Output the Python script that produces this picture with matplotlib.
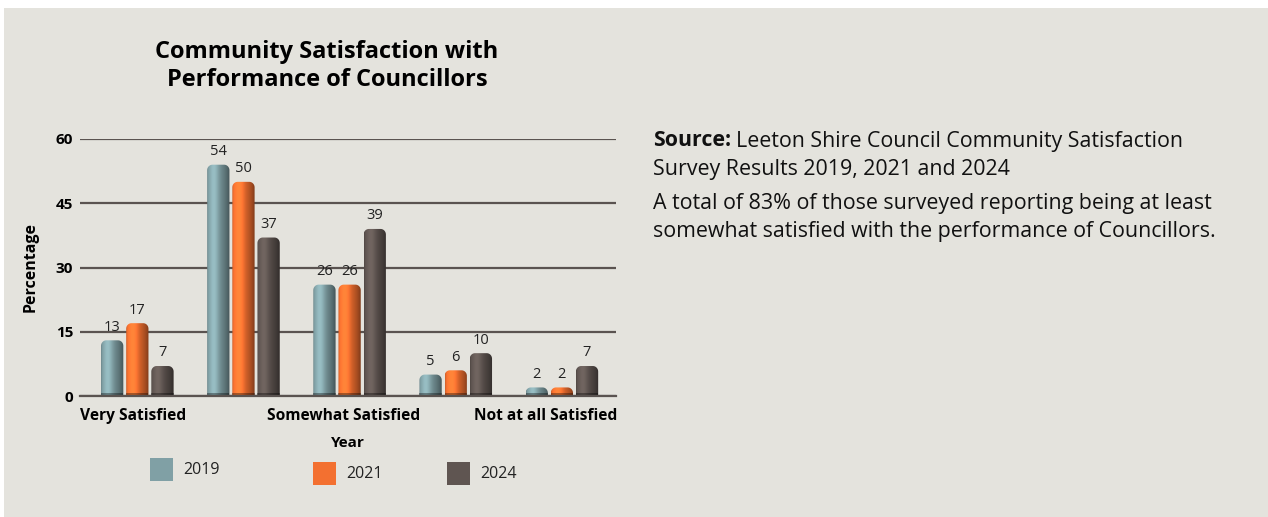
import matplotlib.pyplot as plt
import numpy as np
from matplotlib.patches import Polygon, Rectangle
from matplotlib.colors import to_rgb
from matplotlib.transforms import ScaledTranslation

plt.rcParams['font.family'] = ['Open Sans', 'DejaVu Sans']

categories = ['Very Satisfied', 'Satisfied', 'Somewhat Satisfied',
              'Not very Satisfied', 'Not at all Satisfied']
shown_labels = ['Very Satisfied', '', 'Somewhat Satisfied', '', 'Not at all Satisfied']
years = ['2019', '2021', '2024']
values_2019 = [13, 54, 26, 5, 2]
values_2021 = [17, 50, 26, 6, 2]
values_2024 = [7, 37, 39, 10, 7]
colors = ['#80A0A5', '#F37030', '#5F5551']
y_ticks = [0, 15, 30, 45, 60]

W, H = 1268, 517
bg = '#E4E3DD'
fig = plt.figure(figsize=(W / 100, H / 100), dpi=100, facecolor='white')
fig.patches.append(Rectangle((4 / W, 0), 1, 1 - 8 / H, transform=fig.transFigure,
                             facecolor=bg, edgecolor='none', zorder=-10))

ax = fig.add_axes([80 / W, 1 - 396 / H, 536 / W, 257 / H])
ax.set_facecolor('none')

x = np.arange(len(categories))
width = 0.21
offset = 0.237
series = [values_2019, values_2021, values_2024]


def shade(color):
    # horizontal cylinder-like gradient
    c = np.array(to_rgb(color))
    t = np.linspace(0, 1, 64)
    light = 0.92 + 0.28 * np.exp(-((t - 0.3) / 0.22) ** 2) - 0.4 * t ** 3
    light[:3] *= 0.9
    img = np.clip(c[None, None, :] * light[None, :, None], 0, 1)
    return np.repeat(img, 2, axis=0)


def rounded_bar(x0, w, h, rx, ry):
    # outline of a bar with rounded top corners (data coords)
    ry = min(ry, h)
    a = np.linspace(0, np.pi / 2, 12)
    left = np.column_stack([x0 + rx - rx * np.cos(a), h - ry + ry * np.sin(a)])
    right = np.column_stack([x0 + w - rx + rx * np.sin(a), h - ry + ry * np.cos(a)])
    return np.vstack([[[x0, -1]], left, right, [[x0 + w, -1]]])


for i, vals in enumerate(series):
    bars = ax.bar(x + (i - 1) * offset, vals, width, color='none', edgecolor='none')
    for rect, v in zip(bars, vals):
        x0 = rect.get_x()
        w = rect.get_width()
        poly = Polygon(rounded_bar(x0, w, v, 0.05, 1.3), closed=True,
                       facecolor='none', edgecolor='none', zorder=3)
        ax.add_patch(poly)
        im = ax.imshow(shade(colors[i]), extent=(x0, x0 + w, 0, v), origin='lower',
                       aspect='auto', zorder=3, interpolation='bilinear')
        im.set_clip_path(poly)
        # dark foot of the bar
        ax.add_patch(Rectangle((x0, 0), w, 0.8, facecolor='black', alpha=0.35,
                               edgecolor='none', zorder=3.5))
        ax.text(x0 + w / 2, v + 1.3, str(v), ha='center', va='bottom', fontsize=10.5, color='#222222')

ax.set_xlim(-0.54, 4.51)
ax.set_ylim(0, 60)
ax.set_yticks(y_ticks)
ax.set_yticklabels([str(t) for t in y_ticks], fontweight='bold', fontsize=11)
ax.set_xticks(x)
ax.set_xticklabels(shown_labels, fontweight='bold', fontsize=11.2)
ax.tick_params(axis='y', length=0, pad=5)
ax.tick_params(axis='x', length=0, pad=9)
# the original pulls the category labels a little to the left
shifts = [-4, 0, -6, 0, -16]
for lab, dx in zip(ax.get_xticklabels(), shifts):
    lab.set_transform(lab.get_transform() + ScaledTranslation(dx / 100, 0, fig.dpi_scale_trans))
ax.yaxis.grid(True, color='#5A5350', linewidth=1.6, zorder=1)
ax.set_axisbelow(True)
for s in ax.spines.values():
    s.set_visible(False)
ax.axhline(0, color='#5A5350', linewidth=1.6, zorder=4, clip_on=False)
ax.set_xlabel('Year', fontweight='bold', fontsize=11, labelpad=8)
ax.set_ylabel('Percentage', fontweight='bold', fontsize=11.5, labelpad=12)

fig.text(327 / W, 1 - 66 / H, 'Community Satisfaction with\nPerformance of Councillors',
         ha='center', va='center', fontsize=17, fontweight='bold', linespacing=1.2)

# legend drawn as in the original: three loose entries
leg_boxes = [(150, 458), (313, 462), (447, 462)]
for year, col, (lx, ly) in zip(years, colors, leg_boxes):
    fig.patches.append(Rectangle((lx / W, 1 - (ly + 23) / H), 23 / W, 23 / H,
                                 transform=fig.transFigure, facecolor=col, edgecolor='none'))
    fig.text((lx + 33) / W, 1 - (ly + 12) / H, year, fontsize=11.5, va='center', ha='left',
             color='#222222')

# right-hand text
r = fig.canvas.get_renderer()
fs = 15.4
src = fig.text(653 / W, 1 - 141 / H, 'Source:', fontsize=fs, fontweight='bold',
               va='center', ha='left', color='#111111')
bb = src.get_window_extent(renderer=r)
fig.text((bb.x1 + 5) / W, 1 - 141 / H, 'Leeton Shire Council Community Satisfaction',
         fontsize=fs, va='center', ha='left', color='#111111')
fig.text(653 / W, 1 - 169 / H, 'Survey Results 2019, 2021 and 2024',
         fontsize=fs, va='center', ha='left', color='#111111')
fig.text(653 / W, 1 - 203 / H, 'A total of 83% of those surveyed reporting being at least',
         fontsize=fs, va='center', ha='left', color='#111111')
fig.text(653 / W, 1 - 231 / H, 'somewhat satisfied with the performance of Councillors.',
         fontsize=fs, va='center', ha='left', color='#111111')

fig.savefig('out.png', dpi=100, facecolor=fig.get_facecolor())
